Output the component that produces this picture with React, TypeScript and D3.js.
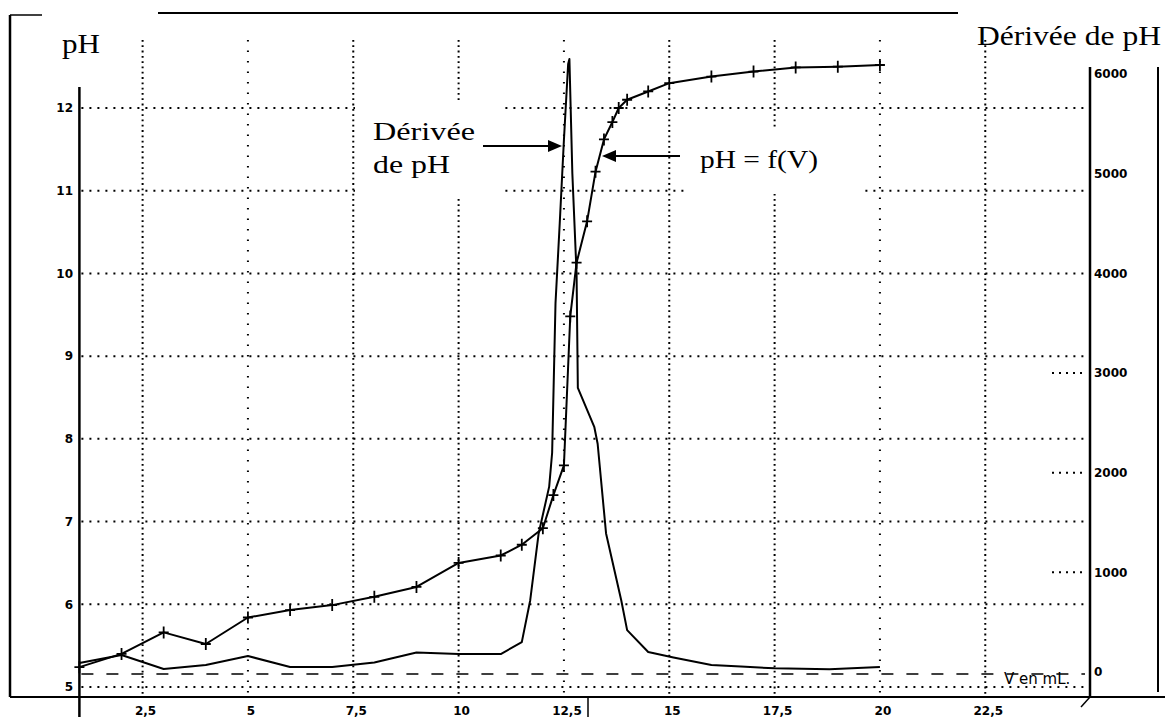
import React, { useEffect } from "react";
import * as d3 from "d3";

const width = 1165;
const height = 717;

// volume added (mL) and measured pH
const phVolume = [1, 2, 3, 4, 5, 6, 7, 8, 9, 10, 11, 11.5, 12, 12.25, 12.5, 12.65, 12.8, 13.05, 13.25, 13.45, 13.65, 13.8, 14, 14.5, 15, 16, 17, 18, 19, 20];
const phValues = [5.24, 5.4, 5.66, 5.52, 5.84, 5.93, 5.99, 6.09, 6.21, 6.5, 6.59, 6.72, 6.92, 7.32, 7.68, 9.48, 10.13, 10.63, 11.23, 11.62, 11.83, 12.0, 12.1, 12.2, 12.3, 12.38, 12.44, 12.49, 12.5, 12.52];

// derivative of pH
const derivVolume = [1, 2, 3, 4, 5, 6, 7, 8, 9, 10, 11, 11.5, 11.7, 11.9, 12.15, 12.22, 12.3, 12.4, 12.5, 12.6, 12.63, 12.7, 12.8, 12.83, 13.22, 13.3, 13.5, 13.86, 14, 14.5, 15.1, 16, 16.7, 17.5, 18.8, 20];
const derivValues = [90, 170, 30, 70, 160, 50, 50, 95, 195, 180, 180, 300, 720, 1390, 1860, 2200, 3700, 4500, 5340, 6100, 6150, 5000, 4000, 2850, 2460, 2290, 1390, 720, 420, 200, 145, 70, 55, 37, 27, 50];

const xTicks = [2.5, 5, 7.5, 10, 12.5, 15, 17.5, 20, 22.5];
const xTickLabels = ["2,5", "5", "7,5", "10", "12,5", "15", "17,5", "20", "22,5"];
const sparseX = [5, 12.5, 20];
const phTicks = [5, 6, 7, 8, 9, 10, 11, 12];
const derivTicks = [0, 1000, 2000, 3000, 4000, 5000, 6000];
const derivLeaders = [1000, 2000, 3000];

const x = d3.scaleLinear().domain([1, 25]).range([79.4, 1090.6]);
const yPh = d3.scaleLinear().domain([5, 12]).range([687, 108]);
const yDer = d3.scaleLinear().domain([0, 6000]).range([672, 74]);

const serif = "'Liberation Serif', 'Times New Roman', serif";
const sans = "'DejaVu Sans', Verdana, sans-serif";

export default function App() {
  useEffect(() => {
    document.body.style.margin = "0";
  }, []);

  const phPts: [number, number][] = phVolume.map((v, i) => [v, phValues[i]]);
  const derPts: [number, number][] = derivVolume.map((v, i) => [v, derivValues[i]]);

  const phLine = d3
    .line<[number, number]>()
    .x((d) => x(d[0]))
    .y((d) => yPh(d[1]));
  const derLine = d3
    .line<[number, number]>()
    .x((d) => x(d[0]))
    .y((d) => yDer(d[1]));

  const crosses = phPts
    .map(([v, p]) => {
      const cx = x(v);
      const cy = yPh(p);
      return `M${cx - 5},${cy}h10M${cx},${cy - 6}v12`;
    })
    .join("");

  return (
    <svg width={width} height={height} style={{ display: "block", background: "#fff" }}>
      {/* vertical grid */}
      {xTicks.map((t) => (
        <line
          key={"vx" + t}
          x1={x(t)}
          x2={x(t)}
          y1={40}
          y2={697}
          stroke="#000"
          strokeWidth={2}
          strokeDasharray={sparseX.includes(t) ? "1.5 9" : "1.8 3.5"}
        />
      ))}
      {/* horizontal grid on pH values */}
      {phTicks.map((t) => (
        <line
          key={"hy" + t}
          x1={x(1) + 2}
          x2={1088}
          y1={yPh(t)}
          y2={yPh(t)}
          stroke="#000"
          strokeWidth={2}
          strokeDasharray="2 6"
        />
      ))}
      {/* zero of derivative */}
      <line x1={x(1) + 2} x2={1085} y1={yDer(0) + 2} y2={yDer(0) + 2} stroke="#000" strokeWidth={1.5} strokeDasharray="12 13" />
      {derivLeaders.map((t) => (
        <line key={"ld" + t} x1={1052} x2={1087} y1={yDer(t)} y2={yDer(t)} stroke="#000" strokeWidth={2} strokeDasharray="2 5" />
      ))}

      {/* label boxes hiding the grid */}
      <rect x={355} y={100} width={145} height={96} fill="#fff" />
      <rect x={684} y={130} width={176} height={64} fill="#fff" />

      {/* frame and axes */}
      <line x1={10} x2={10} y1={15} y2={697} stroke="#000" strokeWidth={2.5} />
      <line x1={10} x2={42} y1={15} y2={15} stroke="#000" strokeWidth={1.5} />
      <line x1={158} x2={958} y1={13} y2={13} stroke="#000" strokeWidth={2} />
      <line x1={1158} x2={1158} y1={67} y2={692} stroke="#000" strokeWidth={2} />
      <line x1={10} x2={1165} y1={697} y2={697} stroke="#000" strokeWidth={2} />
      <line x1={x(1)} x2={x(1)} y1={87} y2={717} stroke="#000" strokeWidth={2.5} />
      <line x1={1090} x2={1090} y1={67} y2={697} stroke="#000" strokeWidth={2.5} />
      <line x1={588} x2={588} y1={697} y2={717} stroke="#000" strokeWidth={1.5} />
      <line x1={1081} x2={1090} y1={707} y2={697} stroke="#000" strokeWidth={1.5} />

      {/* curves */}
      <path d={derLine(derPts) ?? ""} fill="none" stroke="#000" strokeWidth={2} strokeLinejoin="round" />
      <path d={phLine(phPts) ?? ""} fill="none" stroke="#000" strokeWidth={2} strokeLinejoin="round" />
      <path d={crosses} fill="none" stroke="#000" strokeWidth={1.8} />

      {/* tick labels */}
      {phTicks.map((t) => (
        <text key={"lp" + t} x={73} y={yPh(t)} dy="0.36em" textAnchor="end" fontFamily={sans} fontWeight="bold" fontSize={12}>
          {t}
        </text>
      ))}
      {derivTicks.map((t) => (
        <text key={"ld" + t} x={1094} y={yDer(t)} dy="0.36em" textAnchor="start" fontFamily={sans} fontWeight="bold" fontSize={12}>
          {t}
        </text>
      ))}
      {xTicks.map((t, i) => (
        <text key={"lx" + t} x={x(t) + 3} y={715} textAnchor="middle" fontFamily={sans} fontWeight="bold" fontSize={12}>
          {xTickLabels[i]}
        </text>
      ))}
      <text x={1004} y={684} fontFamily={sans} fontSize={15}>
        V en mL.
      </text>

      {/* titles and annotations */}
      <text x={62} y={53} fontFamily={serif} fontSize={27} textLength={38} lengthAdjust="spacingAndGlyphs">
        pH
      </text>
      <text x={977} y={45} fontFamily={serif} fontSize={28} textLength={184} lengthAdjust="spacingAndGlyphs">
        Dérivée de pH
      </text>
      <text x={373} y={140} fontFamily={serif} fontSize={26} textLength={102} lengthAdjust="spacingAndGlyphs">
        Dérivée
      </text>
      <text x={373} y={173} fontFamily={serif} fontSize={26} textLength={77} lengthAdjust="spacingAndGlyphs">
        de pH
      </text>
      <text x={700} y={168} fontFamily={serif} fontSize={26} textLength={118} lengthAdjust="spacingAndGlyphs">
        pH = f(V)
      </text>

      {/* arrows */}
      <line x1={483} x2={552} y1={146} y2={146} stroke="#000" strokeWidth={2} />
      <polygon points="562,146 548,140 548,152" fill="#000" />
      <line x1={680} x2={612} y1={156} y2={156} stroke="#000" strokeWidth={2} />
      <polygon points="602,156 616,150 616,162" fill="#000" />
    </svg>
  );
}
